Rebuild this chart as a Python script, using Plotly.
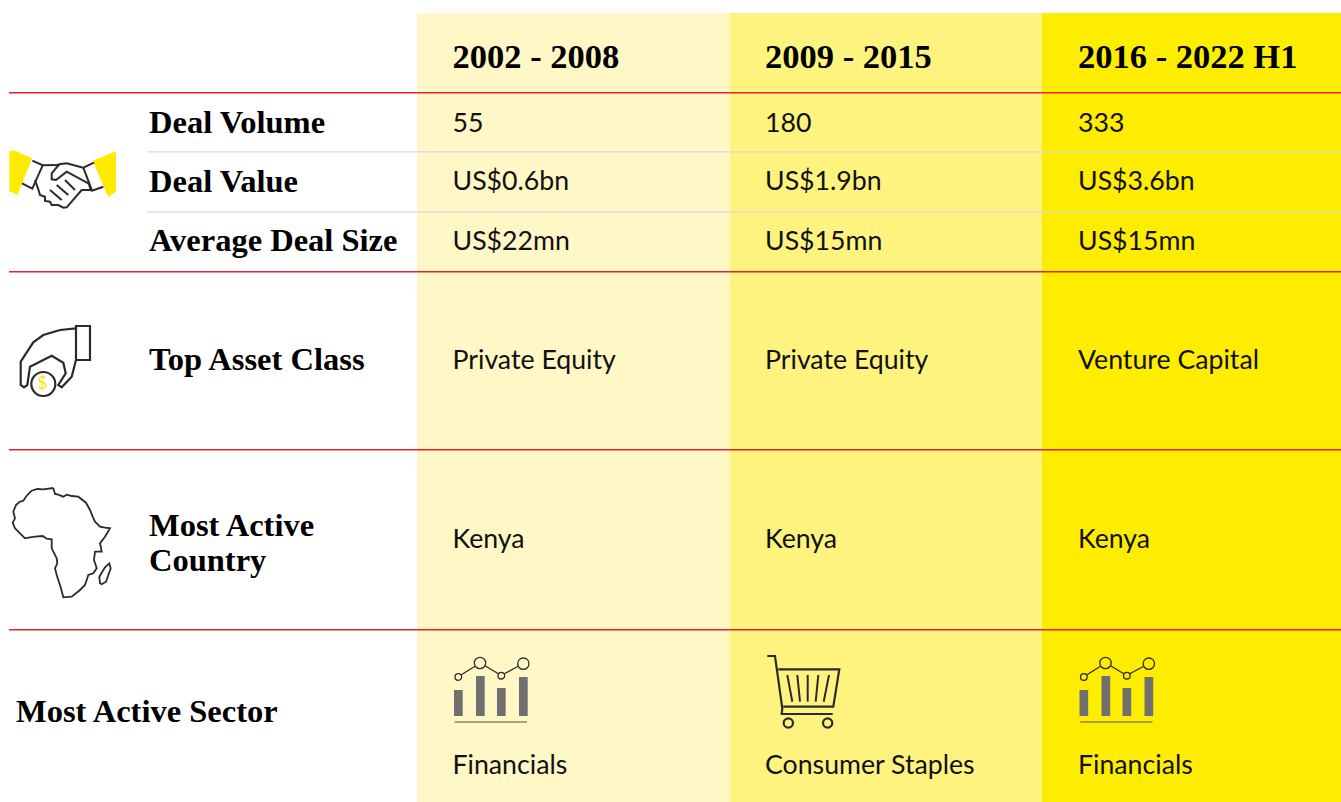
import plotly.graph_objects as go

periods = ["2002 - 2008", "2009 - 2015", "2016 - 2022 H1"]
row_labels = ["Deal Volume", "Deal Value", "Average Deal Size", "Top Asset Class",
              "Most Active", "Country", "Most Active Sector"]
col_2002 = ["55", "US$0.6bn", "US$22mn", "Private Equity", "Kenya", "Financials"]
col_2009 = ["180", "US$1.9bn", "US$15mn", "Private Equity", "Kenya", "Consumer Staples"]
col_2016 = ["333", "US$3.6bn", "US$15mn", "Venture Capital", "Kenya", "Financials"]
columns = [col_2002, col_2009, col_2016]

W, H = 1341, 802
SERIF = "Liberation Serif"
SANS = "Lato"
col_edges = [417, 730, 1042, 1341]
col_fill = ["#FFF8C6", "#FFF380", "#FFED00"]
col_text_x = [452.5, 765, 1078]
row_y = [125, 183, 243, 362, 541, 767]
label_y = [125, 184, 243, 362, 528, 563, 714]
label_x = [149, 149, 149, 149, 149, 149, 16]
INK = "#2b2b2b"

shapes = []

def rect(x0, y0, x1, y1, color):
    shapes.append(dict(type="rect", xref="x", yref="y", x0=x0, y0=y0, x1=x1, y1=y1,
                       fillcolor=color, line=dict(width=0), layer="below"))

def hline(y, x0, color, w=1):
    shapes.append(dict(type="line", xref="x", yref="y", x0=x0, x1=W, y0=y, y1=y,
                       line=dict(color=color, width=w), layer="below"))

def path(pts, ox, oy, closed=False, fill=None, color=INK, w=2):
    z = [(ox + a / 3, oy + b / 3) for a, b in pts]
    d = "M" + " L".join(f"{a:.1f},{b:.1f}" for a, b in z) + (" Z" if closed else "")
    shapes.append(dict(type="path", xref="x", yref="y", path=d,
                       fillcolor=fill if fill else "rgba(0,0,0,0)",
                       line=dict(color=color if w else "rgba(0,0,0,0)", width=w)))

def circle(cx, cy, r, ox, oy, color=INK, w=2):
    shapes.append(dict(type="circle", xref="x", yref="y",
                       x0=ox + (cx - r) / 3, x1=ox + (cx + r) / 3,
                       y0=oy + (cy - r) / 3, y1=oy + (cy + r) / 3,
                       line=dict(color=color, width=w)))

for i in range(3):
    rect(col_edges[i], 13, col_edges[i + 1], H, col_fill[i])
for y in (151.8, 211.8):
    hline(y, 147, "#d9d9d9", 1.3)
for y in (92.8, 271.8, 449.8, 629.8):
    hline(y, 9, "#E8202C", 1.5)

# handshake icon
ox, oy = 0, 130
path([(28, 62), (45, 62), (97, 85), (52, 195), (28, 183)], ox, oy, True, "#FFEB00", w=0)
path([(278, 92), (348, 64), (348, 185), (325, 201)], ox, oy, True, "#FFEB00", w=0)
path([(97, 92), (128, 106), (97, 176), (66, 160)], ox, oy)
path([(250, 113), (282, 98)], ox, oy)
path([(250, 113), (276, 182), (310, 170)], ox, oy)
path([(128, 106), (178, 105)], ox, oy)
path([(250, 113), (200, 100), (178, 103), (155, 130), (155, 148), (168, 150), (200, 125), (265, 160)], ox, oy)
path([(105, 150), (115, 178), (120, 195), (135, 200), (135, 213), (150, 215), (155, 225),
      (175, 225), (190, 233), (200, 232), (245, 180), (272, 180), (265, 155)], ox, oy)
path([(150, 180), (185, 210)], ox, oy)
path([(170, 165), (205, 195)], ox, oy)
path([(195, 150), (225, 180)], ox, oy)

# hand with coin
ox, oy = 0, 310
path([(228, 48), (270, 48), (270, 150), (228, 150)], ox, oy, True, w=2.2)
path([(228, 55), (180, 60), (130, 75), (100, 97), (62, 155), (62, 225), (72, 232), (82, 225),
      (90, 170), (155, 137), (190, 158), (197, 190), (175, 225), (185, 232), (215, 200), (228, 150)],
     ox, oy, w=2.2)
circle(130, 222, 36, ox, oy, w=2.2)

# Africa
ox, oy = 0, 480
path([(160, 24), (130, 28), (112, 27), (95, 32), (85, 42), (78, 50), (70, 62), (58, 66), (48, 75), (40, 95),
      (45, 115), (38, 128), (45, 145), (58, 158), (75, 175), (90, 172), (105, 170), (128, 168), (140, 176),
      (155, 178), (155, 205), (170, 235), (172, 250), (165, 265), (170, 285), (175, 300), (183, 325), (190, 352),
      (215, 350), (240, 330), (255, 315), (260, 300), (265, 285), (280, 280), (290, 265), (282, 240), (285, 215),
      (305, 215), (300, 190), (315, 170), (330, 145), (315, 143), (300, 140), (285, 125), (278, 110), (270, 90),
      (258, 68), (235, 50), (215, 48), (200, 44), (190, 50), (175, 44), (165, 42), (160, 24)], ox, oy, w=1.8)
path([(300, 310), (298, 290), (315, 262), (328, 250), (332, 265), (318, 305), (305, 313)], ox, oy, True, w=1.8)

# financials icon
for ox in (440, 1065.5):
    oy = 645
    for x0, y0 in [(42, 135), (108, 93), (171, 129), (237, 96)]:
        path([(x0, y0), (x0 + 26, y0), (x0 + 26, 213), (x0, 213)], ox, oy, True, "#6F6F6F", w=0)
    path([(44, 231), (261, 231)], ox, oy, color="#555533", w=1.2)
    path([(63, 90), (105, 64)], ox, oy, w=1.3)
    path([(135, 62), (175, 86)], ox, oy, w=1.3)
    path([(193, 86), (235, 64)], ox, oy, w=1.3)
    circle(55, 96, 10, ox, oy, w=1.3)
    circle(120, 54, 17, ox, oy, w=1.3)
    circle(184, 92, 10, ox, oy, w=1.3)
    circle(250, 56, 17, ox, oy, w=1.3)

# cart icon
ox, oy = 755, 645
path([(37, 33), (60, 33), (82, 190), (80, 207), (233, 207)], ox, oy, w=2.2)
path([(70, 73), (253, 73), (235, 185), (85, 185)], ox, oy, w=2.2)
for a, b in [((97, 90), (112, 170)), ((127, 90), (135, 170)), ((158, 90), (158, 170)),
             ((190, 90), (182, 170)), ((222, 90), (206, 170))]:
    path([a, b], ox, oy, w=2)
circle(100, 234, 14, ox, oy, w=2.2)
circle(218, 234, 14, ox, oy, w=2.2)

fig = go.Figure()

def text_trace(xs, ys, texts, family, size, color="#111111"):
    fig.add_trace(go.Scatter(x=xs, y=ys, text=texts, mode="text", textposition="middle right",
                             textfont=dict(family=family, size=size, color=color),
                             hoverinfo="skip", showlegend=False, cliponaxis=False))

text_trace(col_text_x, [59, 59, 59], [f"<b>{p}</b>" for p in periods], SERIF, 34.5, "#000000")
text_trace(label_x, label_y, [f"<b>{t}</b>" for t in row_labels], SERIF, 32.5, "#000000")
for i, col in enumerate(columns):
    text_trace([col_text_x[i]] * len(col), row_y, col, SANS, 26.7)
text_trace([37.5], [385], ["$"], SANS, 17, "#FFE600")

fig.update_layout(width=W, height=H, margin=dict(l=0, r=0, t=0, b=0),
                  paper_bgcolor="white", plot_bgcolor="white", shapes=shapes,
                  xaxis=dict(range=[0, W], visible=False, fixedrange=True),
                  yaxis=dict(range=[H, 0], visible=False, fixedrange=True))
fig.write_html("out.html", config=dict(displayModeBar=False),
               post_script="document.body.style.margin='0';document.body.style.overflow='hidden';")
